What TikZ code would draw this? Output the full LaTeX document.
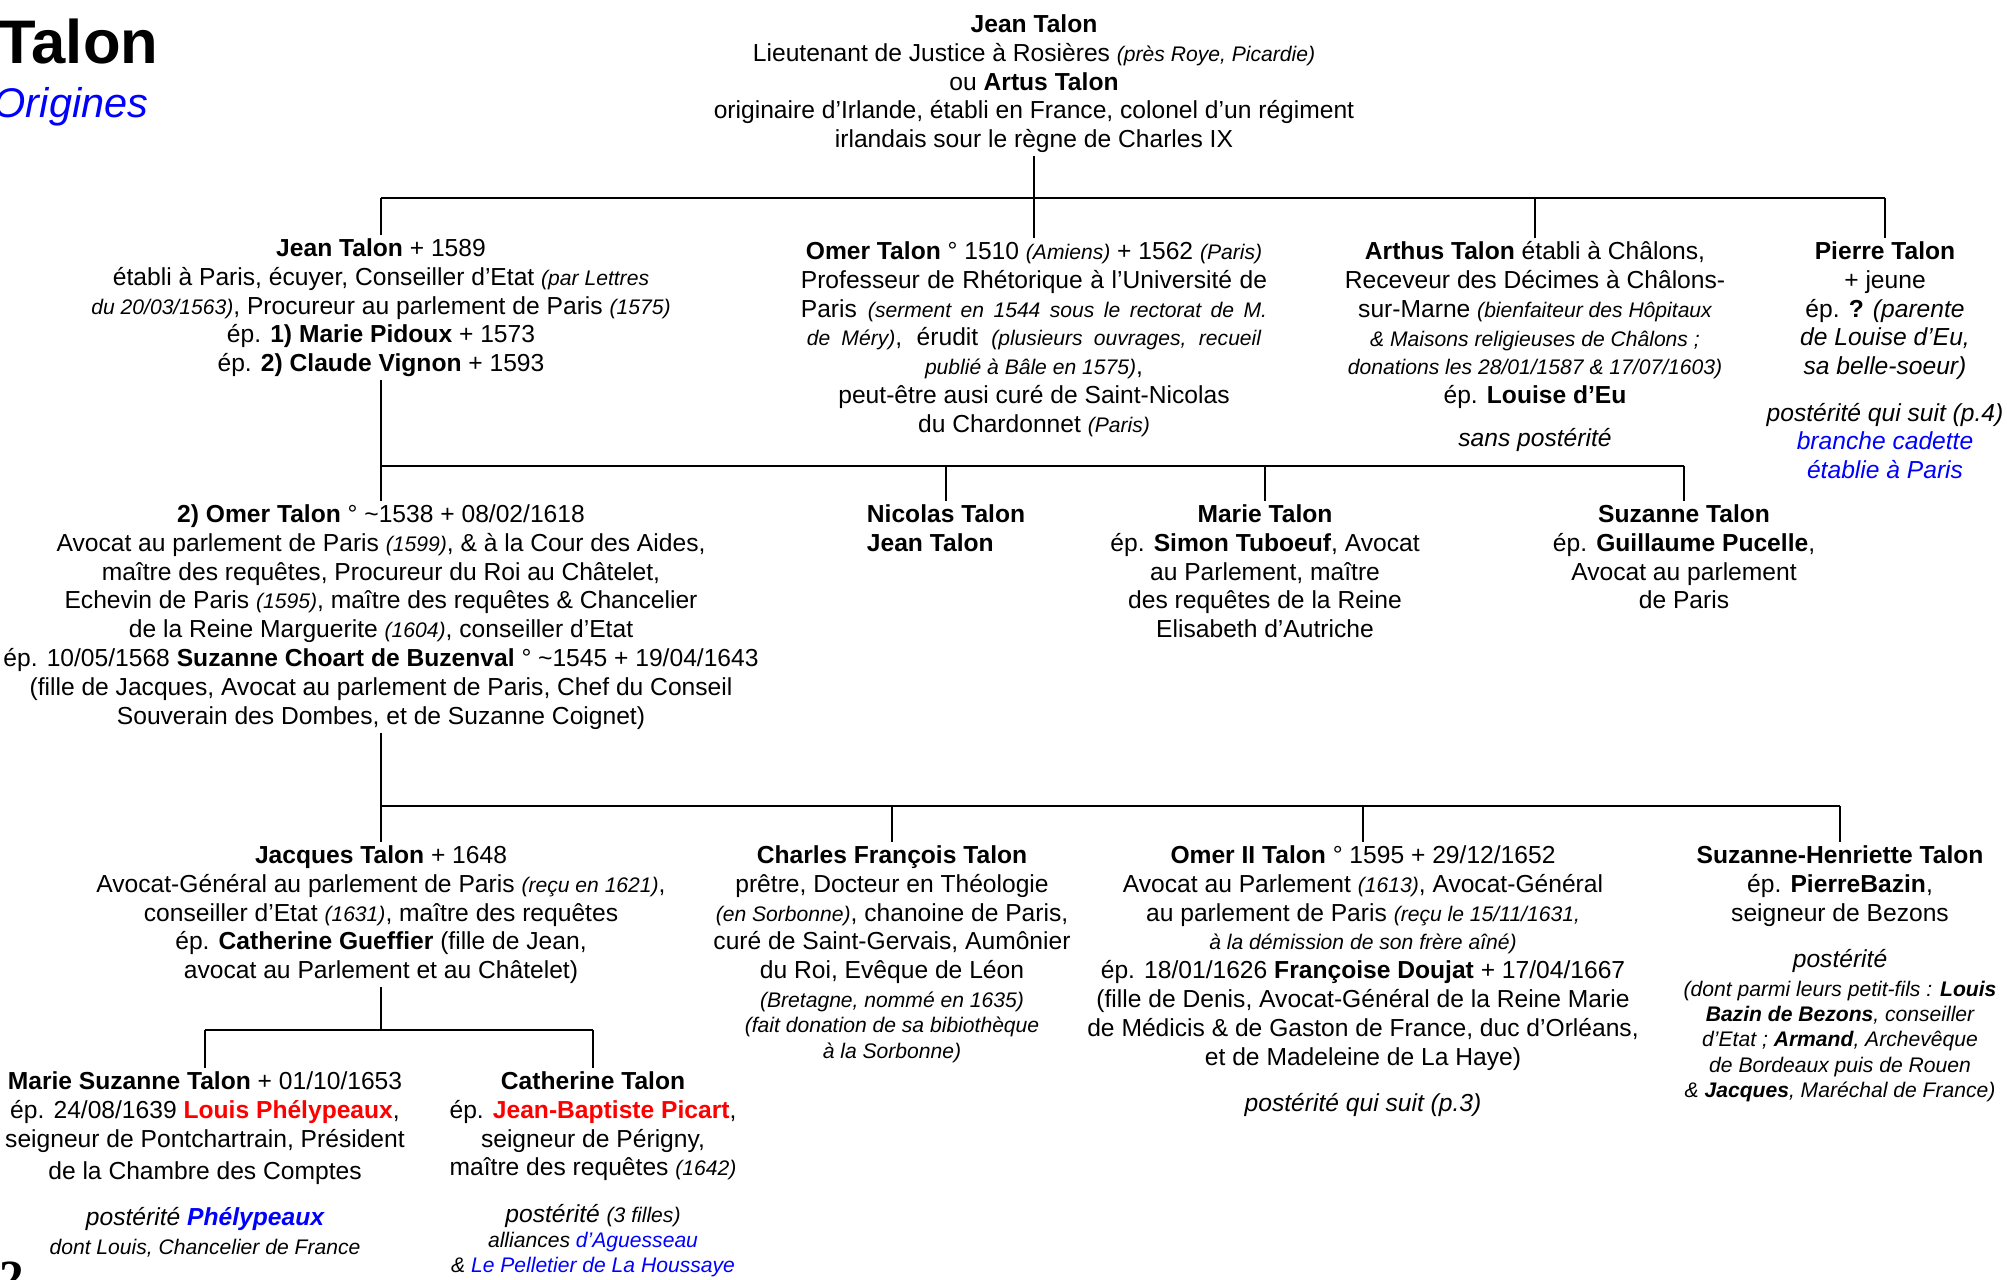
\documentclass[tikz,border=0pt]{standalone}
\usepackage{fontspec}
\setmainfont{Liberation Sans}
\newfontfamily\seriffam{Liberation Serif}
\usepackage{xcolor}
\definecolor{rouge}{RGB}{255,0,0}
\definecolor{bleu}{RGB}{0,0,255}
\newcommand{\pit}[1]{{\fontsize{6}{7.3}\selectfont\itshape #1}}
\newcommand{\nom}[1]{\textbf{#1}}
\newcommand{\just}[2]{\makebox[#1][s]{#2}}

\begin{document}
\begin{tikzpicture}[x=0.01cm, y=-0.01cm,
      pers/.style={anchor=north, align=center, inner sep=0pt, outer sep=1pt,
                   font=\fontsize{7}{8.2}\selectfont},
      trait/.style={line width=0.7pt}
    ]
      \useasboundingbox (0,0) rectangle (2007,1279);

      \node[anchor=base west, inner sep=0pt, font=\fontsize{17.5}{20}\selectfont\bfseries] (titre) at (-2,64) {Talon};
      \node[anchor=base west, inner sep=0pt, font=\fontsize{11.8}{13}\selectfont\itshape, text=bleu] (soustitre) at (-7,118) {Origines};
      \node[anchor=north west, inner sep=0pt, font=\seriffam\bfseries\fontsize{14}{14}\selectfont] (page) at (-1,1261) {2};

      % generation 0
      \node[pers] (origine) at (1034,11) {\nom{Jean Talon}\\
        Lieutenant de Justice à Rosières \pit{(près Roye, Picardie)}\\
        ou \nom{Artus Talon}\\
        originaire d’Irlande, établi en France, colonel d’un régiment\\
        irlandais sour le règne de Charles IX};

      % generation 1
      \node[pers] (jean1) at (381,235) {\nom{Jean Talon} + 1589\\
        établi à Paris, écuyer, Conseiller d’Etat \pit{(par Lettres}\\
        \pit{du 20/03/1563)}, Procureur au parlement de Paris \pit{(1575)}\\
        ép. \nom{1) Marie Pidoux} + 1573\\
        ép. \nom{2) Claude Vignon} + 1593};
      \node[pers] (omer1) at (1034,238) {\nom{Omer Talon} ° 1510 \pit{(Amiens)} + 1562 \pit{(Paris)}\\
        \just{46.6mm}{Professeur de Rhétorique à l’Université de}\\
        \just{46.6mm}{Paris \pit{(serment en 1544 sous le rectorat de M.}}\\
        \just{45.4mm}{\pit{de Méry)}, érudit \pit{(plusieurs ouvrages, recueil}}\\
        \pit{publié à Bâle en 1575)},\\
        peut-être ausi curé de Saint-Nicolas\\
        du Chardonnet \pit{(Paris)}};
      \node[pers] (arthus) at (1535,238) {\nom{Arthus Talon} établi à Châlons,\\
        Receveur des Décimes à Châlons-\\
        sur-Marne \pit{(bienfaiteur des Hôpitaux}\\
        \pit{\& Maisons religieuses de Châlons ;}\\
        \pit{donations les 28/01/1587 \& 17/07/1603)}\\
        ép. \nom{Louise d’Eu}\\[4pt]
        \textit{sans postérité}};
      \node[pers] (pierre) at (1885,238) {\nom{Pierre Talon}\\
        + jeune\\
        ép. \nom{?} \textit{(parente}\\
        \textit{de Louise d’Eu,}\\
        \textit{sa belle-soeur)}\\[5pt]
        \textit{postérité qui suit (p.4)}\\
        \textcolor{bleu}{\textit{branche cadette}}\\
        \textcolor{bleu}{\textit{établie à Paris}}};

      % generation 2
      \node[pers] (omer2) at (381,501) {\nom{2) Omer Talon} ° \textasciitilde1538 + 08/02/1618\\
        Avocat au parlement de Paris \pit{(1599)}, \& à la Cour des Aides,\\
        maître des requêtes, Procureur du Roi au Châtelet,\\
        Echevin de Paris \pit{(1595)}, maître des requêtes \& Chancelier\\
        de la Reine Marguerite \pit{(1604)}, conseiller d’Etat\\
        ép. 10/05/1568 \nom{Suzanne Choart de Buzenval} ° \textasciitilde1545 + 19/04/1643\\
        (fille de Jacques, Avocat au parlement de Paris, Chef du Conseil\\
        Souverain des Dombes, et de Suzanne Coignet)};
      \node[pers, align=left] (nicolas) at (946,501) {\nom{Nicolas Talon}\\
        \nom{Jean Talon}};
      \node[pers] (marie) at (1265,501) {\nom{Marie Talon}\\
        ép. \nom{Simon Tuboeuf}, Avocat\\
        au Parlement, maître\\
        des requêtes de la Reine\\
        Elisabeth d’Autriche};
      \node[pers] (suzanne) at (1684,501) {\nom{Suzanne Talon}\\
        ép. \nom{Guillaume Pucelle},\\
        Avocat au parlement\\
        de Paris};

      % generation 3
      \node[pers] (jacques) at (381,842) {\nom{Jacques Talon} + 1648\\
        Avocat-Général au parlement de Paris \pit{(reçu en 1621)},\\
        conseiller d’Etat \pit{(1631)}, maître des requêtes\\
        ép. \nom{Catherine Gueffier} (fille de Jean,\\
        avocat au Parlement et au Châtelet)};
      \node[pers] (charles) at (892,842) {\nom{Charles François Talon}\\
        prêtre, Docteur en Théologie\\
        \pit{(en Sorbonne)}, chanoine de Paris,\\
        curé de Saint-Gervais, Aumônier\\
        du Roi, Evêque de Léon\\
        \pit{(Bretagne, nommé en 1635)}\\[-1pt]
        \pit{(fait donation de sa bibiothèque}\\[-1pt]
        \pit{à la Sorbonne)}};
      \node[pers] (omerII) at (1363,842) {\nom{Omer II Talon} ° 1595 + 29/12/1652\\
        Avocat au Parlement \pit{(1613)}, Avocat-Général\\
        au parlement de Paris \pit{(reçu le 15/11/1631,}\\
        \pit{à la démission de son frère aîné)}\\
        ép. 18/01/1626 \nom{Françoise Doujat} + 17/04/1667\\
        (fille de Denis, Avocat-Général de la Reine Marie\\
        de Médicis \& de Gaston de France, duc d’Orléans,\\
        et de Madeleine de La Haye)\\[5pt]
        \textit{postérité qui suit (p.3)}};
      \node[pers] (suzhenr) at (1840,842) {\nom{Suzanne-Henriette Talon}\\
        ép. \nom{PierreBazin},\\
        seigneur de Bezons\\[5pt]
        \textit{postérité}\\
        \pit{(dont parmi leurs petit-fils : \textbf{Louis}}\\[-1pt]
        \pit{\textbf{Bazin de Bezons}, conseiller}\\[-1pt]
        \pit{d’Etat ; \textbf{Armand}, Archevêque}\\[-1pt]
        \pit{de Bordeaux puis de Rouen}\\[-1pt]
        \pit{\& \textbf{Jacques}, Maréchal de France)}};

      % generation 4
      \node[pers] (mariesuz) at (205,1068) {\nom{Marie Suzanne Talon} + 01/10/1653\\
        ép. 24/08/1639 \textcolor{rouge}{\nom{Louis Phélypeaux}},\\
        seigneur de Pontchartrain, Président\\[1pt]
        de la Chambre des Comptes\\[5pt]
        \textit{postérité \textcolor{bleu}{\textbf{Phélypeaux}}}\\
        \pit{dont Louis, Chancelier de France}};
      \node[pers] (catherine) at (593,1068) {\nom{Catherine Talon}\\
        ép. \textcolor{rouge}{\nom{Jean-Baptiste Picart}},\\
        seigneur de Périgny,\\
        maître des requêtes \pit{(1642)}\\[5pt]
        \textit{postérité} \pit{(3 filles)}\\[-1pt]
        \pit{alliances \textcolor{bleu}{d’Aguesseau}}\\[-1pt]
        \pit{\& \textcolor{bleu}{Le Pelletier de La Houssaye}}};

      % branches
      \coordinate (barre1) at (0,198);
      \coordinate (barre2) at (0,466);
      \coordinate (barre3) at (0,806);
      \coordinate (barre4) at (0,1030);

      \draw[trait] (origine.south) -- (origine.south |- barre1);
      \draw[trait] (jean1.north |- barre1) -- (pierre.north |- barre1);
      \foreach \n in {jean1, omer1, arthus, pierre}
        \draw[trait] (\n.north |- barre1) -- (\n.north);

      \draw[trait] (jean1.south) -- (omer2.north);
      \draw[trait] (jean1.south |- barre2) -- (suzanne.north |- barre2);
      \foreach \n in {nicolas, marie, suzanne}
        \draw[trait] (\n.north |- barre2) -- (\n.north);

      \draw[trait] (omer2.south) -- (jacques.north);
      \draw[trait] (omer2.south |- barre3) -- (suzhenr.north |- barre3);
      \foreach \n in {charles, omerII, suzhenr}
        \draw[trait] (\n.north |- barre3) -- (\n.north);

      \draw[trait] (jacques.south) -- (jacques.south |- barre4);
      \draw[trait] (mariesuz.north |- barre4) -- (catherine.north |- barre4);
      \foreach \n in {mariesuz, catherine}
        \draw[trait] (\n.north |- barre4) -- (\n.north);
    \end{tikzpicture}
\end{document}
